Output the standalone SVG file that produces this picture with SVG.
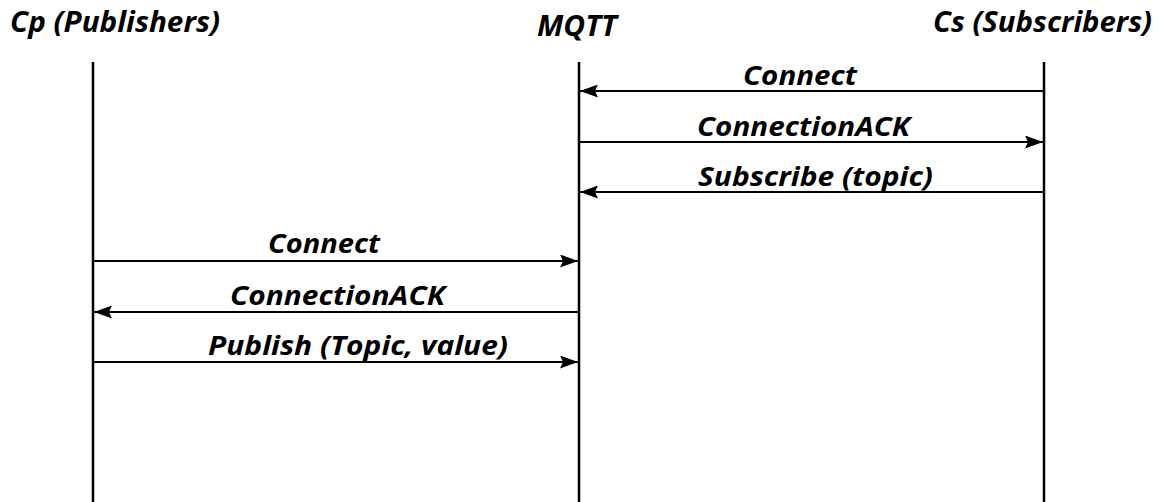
<svg xmlns="http://www.w3.org/2000/svg" width="1162" height="502" viewBox="0 0 1162 502">
  <style>
    .title { font-family: "Open Sans", "Liberation Sans", sans-serif; font-weight: bold; font-style: italic; font-size: 28px; fill: #000; }
    .msg { font-family: "Open Sans", "Liberation Sans", sans-serif; font-weight: bold; font-style: italic; font-size: 27px; fill: #000; }
    .life { stroke: #000; stroke-width: 2.5; fill: none; }
    .arrow { stroke: #000; stroke-width: 2.2; fill: none; marker-end: url(#head); }
  </style>
  <defs>
    <marker id="head" viewBox="0 0 18 13" refX="18" refY="6.5" markerWidth="18" markerHeight="13" markerUnits="userSpaceOnUse" orient="auto">
      <path d="M0,0 L18,6.5 L0,13 L3,6.5 Z" fill="#000"/>
    </marker>
  </defs>
  <rect width="1162" height="502" fill="#fff"/>

  <g id="publishers">
    <text class="title" x="10" y="32" textLength="210" lengthAdjust="spacingAndGlyphs">Cp (Publishers)</text>
    <line class="life" x1="93" y1="62" x2="93" y2="502"/>
  </g>
  <g id="mqtt">
    <text class="title" x="537" y="36" textLength="80" lengthAdjust="spacingAndGlyphs">MQTT</text>
    <line class="life" x1="579" y1="62" x2="579" y2="502"/>
  </g>
  <g id="subscribers">
    <text class="title" x="933" y="32" textLength="219" lengthAdjust="spacingAndGlyphs">Cs (Subscribers)</text>
    <line class="life" x1="1044" y1="62" x2="1044" y2="502"/>
  </g>

  <g id="connectors">
    <line class="arrow" x1="1044" y1="91" x2="580" y2="91"/>
    <line class="arrow" x1="579" y1="142" x2="1043" y2="142"/>
    <line class="arrow" x1="1044" y1="192" x2="580" y2="192"/>
    <line class="arrow" x1="93" y1="261" x2="578" y2="261"/>
    <line class="arrow" x1="579" y1="312" x2="94" y2="312"/>
    <line class="arrow" x1="93" y1="362" x2="578" y2="362"/>
  </g>

  <g id="labels">
    <text class="msg" x="743" y="85" textLength="114" lengthAdjust="spacingAndGlyphs">Connect</text>
    <text class="msg" x="697" y="136" textLength="213" lengthAdjust="spacingAndGlyphs">ConnectionACK</text>
    <text class="msg" x="698" y="186" textLength="235" lengthAdjust="spacingAndGlyphs">Subscribe (topic)</text>
    <text class="msg" x="268" y="253" textLength="112" lengthAdjust="spacingAndGlyphs">Connect</text>
    <text class="msg" x="230" y="305" textLength="215" lengthAdjust="spacingAndGlyphs">ConnectionACK</text>
    <text class="msg" x="208" y="355" textLength="300" lengthAdjust="spacingAndGlyphs">Publish (Topic, value)</text>
  </g>
</svg>
